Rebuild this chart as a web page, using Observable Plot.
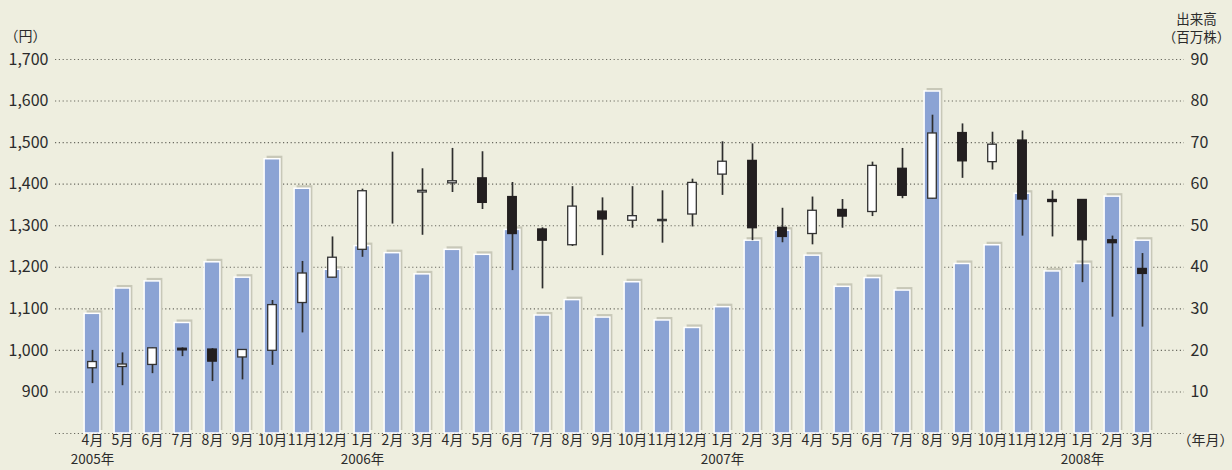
<!DOCTYPE html>
<html>
<head>
<meta charset="utf-8">
<script src="https://cdn.jsdelivr.net/npm/d3@7"></script>
<script src="https://cdn.jsdelivr.net/npm/@observablehq/plot@0.6"></script>
<style>
  html, body { margin: 0; padding: 0; background: #eeeedf; }
  #chart { width: 1232px; height: 470px; }
</style>
</head>
<body>
<div id="chart"></div>
<script>
const periods = ["2005-04","2005-05","2005-06","2005-07","2005-08","2005-09","2005-10","2005-11","2005-12",
  "2006-01","2006-02","2006-03","2006-04","2006-05","2006-06","2006-07","2006-08","2006-09","2006-10","2006-11","2006-12",
  "2007-01","2007-02","2007-03","2007-04","2007-05","2007-06","2007-07","2007-08","2007-09","2007-10","2007-11","2007-12",
  "2008-01","2008-02","2008-03"];
const monthLabels = ["4月","5月","6月","7月","8月","9月","10月","11月","12月",
  "1月","2月","3月","4月","5月","6月","7月","8月","9月","10月","11月","12月",
  "1月","2月","3月","4月","5月","6月","7月","8月","9月","10月","11月","12月",
  "1月","2月","3月"];
// 出来高（百万株）
const volume = [28.8, 34.9, 36.6, 26.6, 41.2, 37.5, 66.0, 58.9, 39.4,
  45.1, 43.4, 38.3, 44.2, 43.0, 49.0, 28.4, 32.1, 27.9, 36.4, 27.2, 25.4,
  30.4, 46.4, 48.8, 42.8, 35.3, 37.4, 34.4, 82.3, 40.8, 45.3, 57.7, 39.0,
  40.8, 57.0, 46.4];
// 株価（円）
const open  = [957, 960, 965, 1004, 1002, 983, 999, 1114, 1175,
  1242, 1400, 1380, 1402, 1414, 1369, 1291, 1253, 1334, 1312, 1311, 1327,
  1423, 1456, 1295, 1280, 1338, 1333, 1437, 1365, 1523, 1453, 1505, 1362,
  1362, 1265, 1196];
const close = [972, 966, 1005, 1000, 973, 1001, 1109, 1185, 1223,
  1383, 1400, 1384, 1407, 1355, 1280, 1264, 1346, 1315, 1323, 1314, 1403,
  1454, 1294, 1273, 1336, 1322, 1444, 1372, 1522, 1455, 1495, 1363, 1357,
  1265, 1258, 1184];
const high  = [1000, 994, 1006, 1006, 1004, 1002, 1120, 1214, 1273,
  1388, 1477, 1437, 1486, 1478, 1404, 1295, 1394, 1367, 1394, 1384, 1412,
  1502, 1497, 1342, 1369, 1363, 1453, 1486, 1566, 1545, 1525, 1528, 1384,
  1362, 1275, 1233];
const low   = [920, 915, 944, 985, 925, 929, 964, 1042, 1174,
  1224, 1304, 1277, 1380, 1339, 1192, 1148, 1250, 1228, 1294, 1258, 1297,
  1373, 1264, 1259, 1254, 1294, 1322, 1365, 1364, 1414, 1434, 1275, 1273,
  1163, 1080, 1056];
const yearPeriods = ["2005-04", "2006-01", "2007-01", "2008-01"];
const yearTexts = ["2005年", "2006年", "2007年", "2008年"];
const priceTicks = [900, 1000, 1100, 1200, 1300, 1400, 1500, 1600, 1700];
const volumeTicks = [10, 20, 30, 40, 50, 60, 70, 80, 90];

// volume is drawn on the price scale: 0 株 ↔ 800円, 10百万株 per 100円
const volToPrice = v => 800 + v * 10;

const data = periods.map((p, i) => ({
  period: p, volume: volume[i], open: open[i], close: close[i], high: high[i], low: low[i]
}));
const up = data.filter(d => d.close >= d.open);
const down = data.filter(d => d.close < d.open);

const font = "'Noto Sans CJK JP', 'Noto Sans', sans-serif";
const txt = "#2b2b2b";

const chart = Plot.plot({
  width: 1232,
  height: 470,
  marginLeft: 55,
  marginRight: 48,
  marginTop: 59,
  marginBottom: 37,
  style: { background: "#eeeedf", fontFamily: font, color: txt },
  x: { type: "band", domain: periods, range: [72, 1162], padding: 0, axis: null, label: null },
  y: { domain: [800, 1700], axis: null, label: null },
  marks: [
    Plot.ruleY([800, ...priceTicks], { stroke: "#6a6a60", strokeDasharray: "1.2,2.6", strokeWidth: 1.1 }),
    // shadow
    Plot.barY(data, { x: "period", y1: 800, y2: d => volToPrice(d.volume), fill: "#c8c8b8",
      insetLeft: 7.1, insetRight: 7.1, dx: 2.5, dy: -3 }),
    // volume bars
    Plot.barY(data, { x: "period", y1: 800, y2: d => volToPrice(d.volume), fill: "#8ba3d4",
      stroke: "white", strokeWidth: 1.5, insetLeft: 7.1, insetRight: 7.1 }),
    // wicks
    Plot.ruleX(data, { x: "period", y1: "low", y2: "high", stroke: "#2e2e2e", strokeWidth: 1.7 }),
    // bodies
    Plot.barY(up, { x: "period", y1: "open", y2: "close", fill: "white", stroke: "#333",
      strokeWidth: 1.3, insetLeft: 10.7, insetRight: 10.7 }),
    Plot.barY(down, { x: "period", y1: "open", y2: "close", fill: "#231f20", stroke: "#231f20",
      strokeWidth: 1.3, insetLeft: 10.7, insetRight: 10.7 }),
    // axes
    Plot.axisY(priceTicks, { anchor: "left", tickSize: 0, tickPadding: 7, fontSize: 16,
      tickFormat: d3.format(","), fill: txt, label: null }),
    Plot.axisY(volumeTicks.map(volToPrice), { anchor: "right", tickSize: 0, tickPadding: 6, fontSize: 16,
      tickFormat: d => String(Math.round((d - 800) / 10)), fill: txt, label: null }),
    Plot.axisX({ tickSize: 0, tickPadding: 2, fontSize: 14, fill: txt, label: null,
      tickFormat: d => monthLabels[periods.indexOf(d)] }),
    Plot.text(yearPeriods, { x: d => d, text: (d, i) => yearTexts[i], frameAnchor: "bottom",
      dy: 30, fontSize: 13.5, fill: txt }),
    Plot.text(["（円）"], { frameAnchor: "top-left", dx: -51, dy: -28, textAnchor: "start", fontSize: 14, fill: txt }),
    Plot.text(["出来高"], { frameAnchor: "top-right", dx: 12, dy: -45, textAnchor: "middle", fontSize: 13.5, fill: txt }),
    Plot.text(["（百万株）"], { frameAnchor: "top-right", dx: 12, dy: -27, textAnchor: "middle", fontSize: 13.5, fill: txt }),
    Plot.text(["（年月）"], { frameAnchor: "bottom-right", dx: 21, dy: 11, textAnchor: "middle", fontSize: 14, fill: txt })
  ]
});
document.getElementById("chart").appendChild(chart);
</script>
</body>
</html>
